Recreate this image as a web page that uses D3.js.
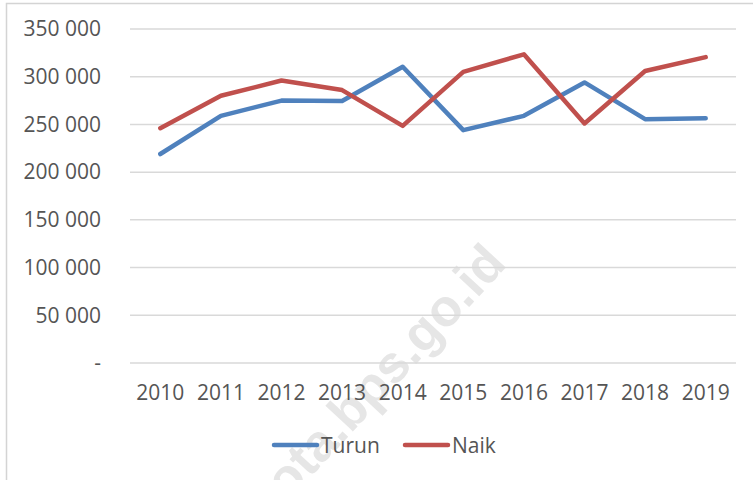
<!DOCTYPE html>
<html>
<head>
<meta charset="utf-8">
<script src="https://cdn.jsdelivr.net/npm/d3@7"></script>
<style>
  body { margin: 0; background: #fff; }
  text { font-family: "Open Sans", "Noto Sans", sans-serif; }
</style>
</head>
<body>
<div id="chart"></div>
<script>
// data
var years = ["2010", "2011", "2012", "2013", "2014", "2015", "2016", "2017", "2018", "2019"];
var turun = [219000, 259000, 275000, 274500, 310500, 244000, 259000, 294000, 255500, 256500];
var naik  = [246000, 280000, 296000, 286000, 248500, 305000, 323500, 251000, 306000, 320500];
var yTicks = [0, 50000, 100000, 150000, 200000, 250000, 300000, 350000];
var seriesNames = ["Turun", "Naik"];
var seriesColors = ["#4F81BD", "#C0504D"];

var W = 753, H = 480;
var margin = {top: 29, right: 17, bottom: 117, left: 130},
    width = W - margin.left - margin.right,
    height = H - margin.top - margin.bottom;

var svgRoot = d3.select("#chart").append("svg")
    .attr("width", W)
    .attr("height", H);

// chart frame
svgRoot.append("rect")
    .attr("x", 6.5).attr("y", 3.5)
    .attr("width", W + 10).attr("height", H + 10)
    .attr("fill", "none")
    .attr("stroke", "#d4d4d4")
    .attr("stroke-width", 1.5);

// watermark
svgRoot.append("text")
    .attr("transform", "translate(388,394) rotate(-47)")
    .attr("text-anchor", "middle")
    .attr("fill", "#e6e6e6")
    .style("font-family", "'Liberation Sans', Arial, sans-serif")
    .style("font-weight", "bold")
    .style("font-size", "52px")
    .text("kota.bps.go.id");

var svg = svgRoot.append("g")
    .attr("transform", "translate(" + margin.left + "," + margin.top + ")");

var x = d3.scaleBand().domain(years).range([0, width]);
var y = d3.scaleLinear().domain([0, 350000]).range([height, 0]);

var loc = d3.formatLocale({decimal: ",", thousands: " ", grouping: [3], currency: ["", ""]});
var fmt = loc.format(",d");

// gridlines
svg.selectAll(".grid")
    .data(yTicks)
  .enter().append("line")
    .attr("x1", 0).attr("x2", width)
    .attr("y1", function(d) { return y(d); })
    .attr("y2", function(d) { return y(d); })
    .attr("stroke", "#d9d9d9")
    .attr("stroke-width", 1.5);

// y axis
var yAxis = svg.append("g")
    .call(d3.axisLeft(y).tickValues(yTicks).tickSize(0).tickPadding(29)
      .tickFormat(function(d) { return d === 0 ? "-" : fmt(d); }));
yAxis.select(".domain").remove();
yAxis.selectAll("text")
    .attr("fill", "#555")
    .style("font-size", "21px")
    .style("font-family", "'Open Sans', sans-serif");

// x axis
var xAxis = svg.append("g")
    .attr("transform", "translate(0," + height + ")")
    .call(d3.axisBottom(x).tickSize(0).tickPadding(22));
xAxis.select(".domain").remove();
xAxis.selectAll("text")
    .attr("fill", "#555")
    .style("font-size", "21px")
    .style("font-family", "'Open Sans', sans-serif");

var line = d3.line()
    .x(function(d, i) { return x(years[i]) + x.bandwidth() / 2; })
    .y(function(d) { return y(d); });

[turun, naik].forEach(function(s, i) {
  svg.append("path")
      .datum(s)
      .attr("fill", "none")
      .attr("stroke", seriesColors[i])
      .attr("stroke-width", 4.5)
      .attr("stroke-linejoin", "round")
      .attr("stroke-linecap", "round")
      .attr("d", line);
});

// legend
var legendX = [272, 403];
var legend = svgRoot.selectAll(".legend")
    .data(seriesNames)
  .enter().append("g")
    .attr("transform", function(d, i) { return "translate(" + legendX[i] + ",445)"; });
legend.append("line")
    .attr("x1", 2).attr("x2", 45)
    .attr("stroke", function(d, i) { return seriesColors[i]; })
    .attr("stroke-width", 4.5)
    .attr("stroke-linecap", "round");
legend.append("text")
    .attr("x", 49).attr("y", 8)
    .attr("fill", "#555")
    .style("font-size", "21px")
    .text(function(d) { return d; });
</script>
</body>
</html>
